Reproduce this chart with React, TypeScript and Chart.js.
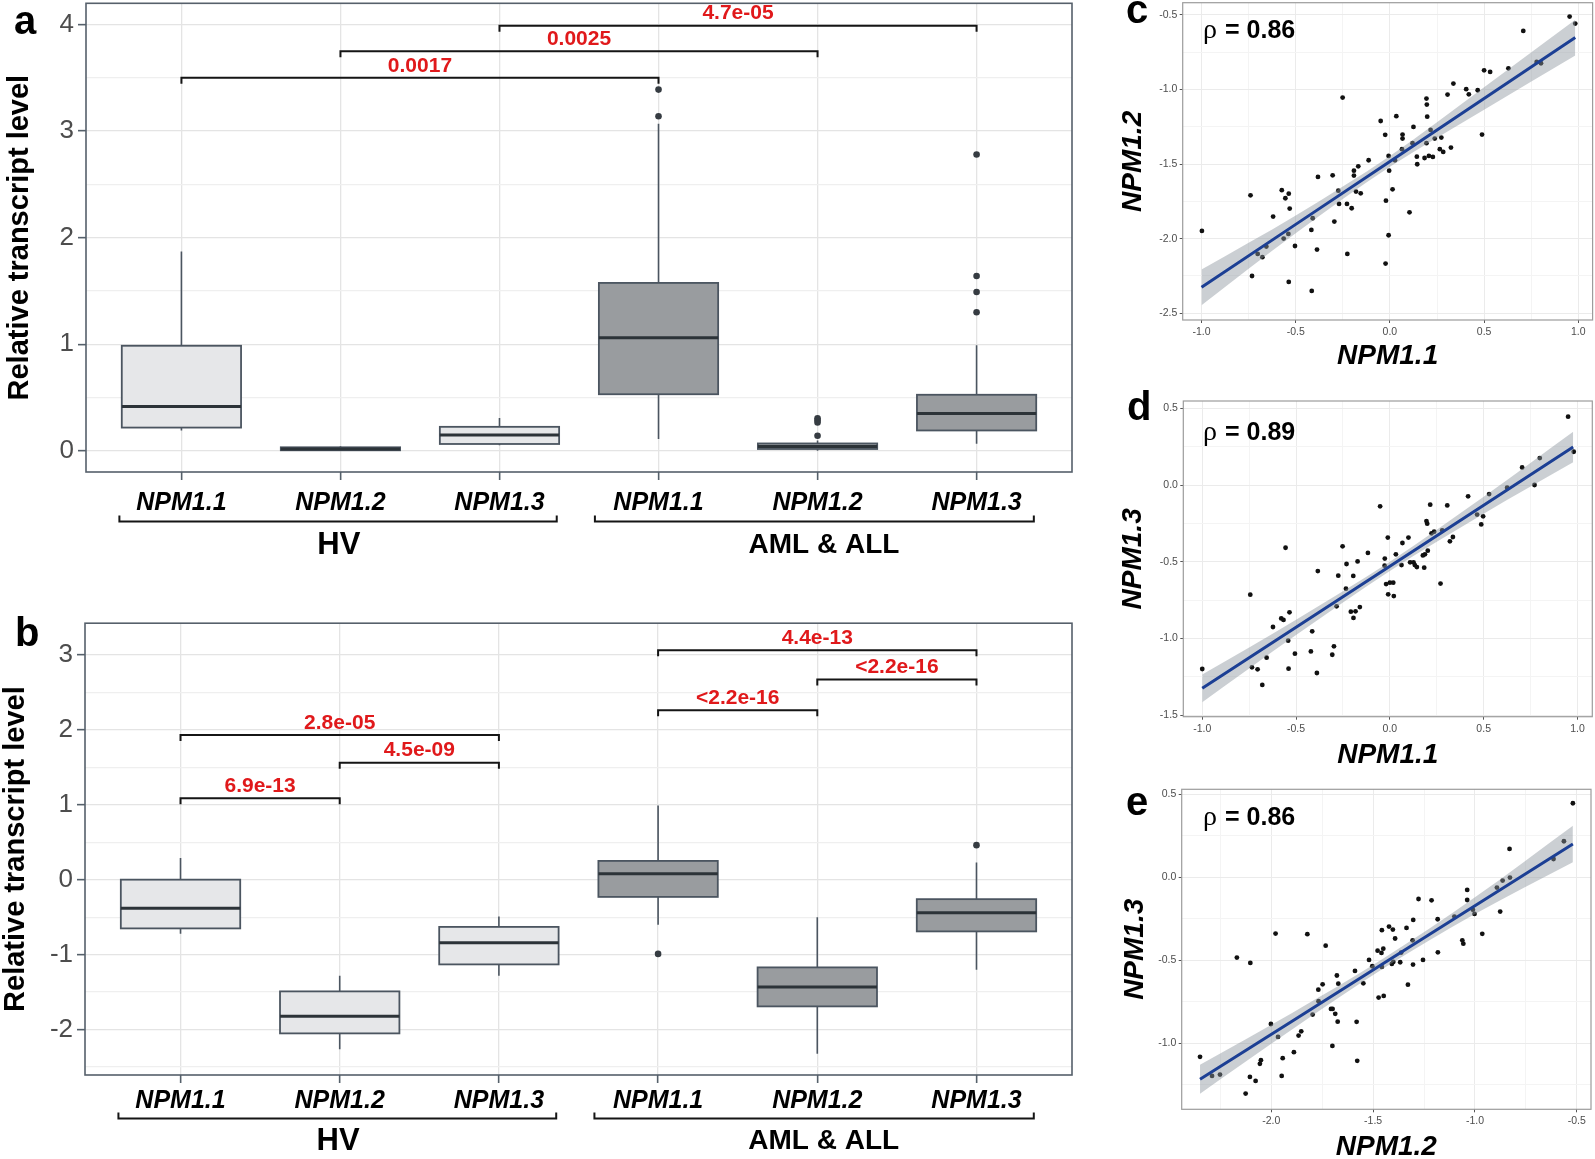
import React, { useEffect, useRef } from "react";
import { Chart, registerables } from "chart.js";

Chart.register(...registerables);

const FONT = '"Liberation Sans", Arial, Helvetica, sans-serif';
Chart.defaults.font.family = FONT;

// ---------- shared categories ----------
const categories = ["NPM1.1", "NPM1.2", "NPM1.3", "NPM1.1", "NPM1.2", "NPM1.3"];
const categoryIndex = [0, 1, 2, 3, 4, 5];
const groupOf = ["HV", "HV", "HV", "AML", "AML", "AML"];
const groupLabels = ["HV", "AML & ALL"];
const groupStart = [-0.39, 2.6];
const groupEnd = [2.36, 5.36];
const groupLabelAt = [0.99, 4.04];

// ---------- panel a ----------
const aWhiskerLow = [0.19, 0.0, 0.05, 0.11, 0.0, 0.065];
const aQ1 = [0.217, 0.004, 0.063, 0.53, 0.016, 0.19];
const aMedian = [0.414, 0.015, 0.147, 1.06, 0.04, 0.35];
const aQ3 = [0.985, 0.032, 0.224, 1.575, 0.068, 0.525];
const aWhiskerHigh = [1.87, 0.042, 0.307, 3.07, 0.095, 0.99];
const aOutlierCat = [3, 3, 4, 4, 4, 4, 5, 5, 5, 5];
const aOutlierVal = [3.39, 3.14, 0.305, 0.285, 0.265, 0.14, 2.78, 1.64, 1.49, 1.3];
const aBracketFrom = [0, 1, 2];
const aBracketTo = [3, 4, 5];
const aBracketY = [3.5, 3.75, 3.99];
const aBracketLabel = ["0.0017", "0.0025", "4.7e-05"];
const aYTicks = [0, 0.5, 1, 1.5, 2, 2.5, 3, 3.5, 4];

// ---------- panel b ----------
const bWhiskerLow = [-0.72, -2.26, -1.28, -0.6, -2.32, -1.2];
const bQ1 = [-0.65, -2.05, -1.13, -0.23, -1.69, -0.69];
const bMedian = [-0.38, -1.82, -0.84, 0.08, -1.43, -0.44];
const bQ3 = [0.0, -1.49, -0.63, 0.25, -1.17, -0.26];
const bWhiskerHigh = [0.29, -1.28, -0.49, 0.99, -0.5, 0.23];
const bOutlierCat = [3, 5];
const bOutlierVal = [-0.99, 0.46];
const bBracketFrom = [0, 1, 0, 3, 4, 3];
const bBracketTo = [1, 2, 2, 4, 5, 5];
const bBracketY = [1.085, 1.56, 1.93, 2.26, 2.67, 3.06];
const bBracketLabel = ["6.9e-13", "4.5e-09", "2.8e-05", "<2.2e-16", "<2.2e-16", "4.4e-13"];
const bYTicks = [-2.5, -2, -1.5, -1, -0.5, 0, 0.5, 1, 1.5, 2, 2.5, 3];

// ---------- panel c (NPM1.1 vs NPM1.2) ----------
const scatterC: [number, number][] = [
  [0.954, -0.511], [0.984, -0.558], [0.708, -0.607], [0.802, -0.824], [0.779, -0.815], [0.629, -0.858],
  [0.5, -0.871], [0.532, -0.882], [0.337, -0.96], [0.306, -1.034], [0.405, -0.998], [0.419, -1.032],
  [0.466, -1.005], [0.194, -1.061], [0.196, -1.101], [0.198, -1.182], [-0.251, -1.054], [0.034, -1.179],
  [-0.049, -1.211], [0.125, -1.251], [-0.025, -1.304], [0.067, -1.302], [0.067, -1.329], [0.216, -1.271],
  [0.238, -1.329], [0.273, -1.322], [0.489, -1.302], [0.12, -1.36], [0.194, -1.36], [0.265, -1.4],
  [0.283, -1.418], [0.324, -1.389], [0.064, -1.4], [-0.007, -1.445], [0.143, -1.45], [0.184, -1.459],
  [0.207, -1.445], [0.228, -1.452], [0.027, -1.474], [0.145, -1.501], [-0.113, -1.474], [-0.168, -1.515],
  [-0.304, -1.575], [-0.382, -1.586], [-0.191, -1.544], [-0.191, -1.577], [-0.004, -1.544], [-0.274, -1.678],
  [-0.18, -1.684], [-0.155, -1.696], [0.014, -1.669], [-0.574, -1.675], [-0.537, -1.698], [-0.74, -1.709],
  [-0.555, -1.729], [-0.228, -1.767], [-0.27, -1.767], [-0.532, -1.798], [-0.203, -1.796], [-0.021, -1.745],
  [0.104, -1.823], [-0.62, -1.852], [-0.41, -1.863], [-0.295, -1.885], [-0.998, -1.948], [-0.417, -1.941],
  [-0.564, -1.999], [-0.539, -1.968], [-0.007, -1.977], [-0.504, -2.049], [-0.656, -2.053], [-0.387, -2.073],
  [-0.702, -2.102], [-0.677, -2.124], [-0.226, -2.102], [-0.023, -2.167], [-0.732, -2.25], [-0.537, -2.29],
  [-0.415, -2.35],
];
const fitXC = [-1, -0.5, 0, 0.5, 0.984];
const fitYC = [-2.326, -1.904, -1.482, -1.06, -0.652];
const ciHiC = [-2.206, -1.844, -1.446, -0.985, -0.532];
const ciLoC = [-2.446, -1.964, -1.518, -1.135, -0.772];
const cXTicks = [-1, -0.75, -0.5, -0.25, 0, 0.25, 0.5, 0.75, 1];
const cYTicks = [-2.5, -2.25, -2, -1.75, -1.5, -1.25, -1, -0.75, -0.5];

// ---------- panel d (NPM1.1 vs NPM1.3) ----------
const scatterD: [number, number][] = [
  [0.95, 0.446], [0.98, 0.217], [0.799, 0.176], [0.705, 0.115], [0.771, 0.0], [0.625, -0.017],
  [0.529, -0.059], [0.417, -0.074], [0.465, -0.193], [0.497, -0.204], [0.487, -0.257], [-0.052, -0.139],
  [0.215, -0.128], [0.306, -0.133], [0.195, -0.235], [0.199, -0.252], [0.236, -0.304], [0.222, -0.315],
  [0.279, -0.296], [0.32, -0.367], [0.336, -0.339], [-0.011, -0.343], [0.099, -0.343], [0.067, -0.378],
  [0.202, -0.428], [0.187, -0.452], [0.176, -0.459], [0.032, -0.452], [-0.027, -0.48], [-0.028, -0.526],
  [0.062, -0.522], [0.108, -0.504], [0.126, -0.504], [0.133, -0.522], [0.144, -0.535], [0.183, -0.539],
  [-0.556, -0.409], [-0.252, -0.4], [-0.117, -0.443], [-0.231, -0.515], [-0.172, -0.498], [-0.384, -0.561],
  [-0.275, -0.591], [-0.195, -0.593], [-0.02, -0.646], [0.0, -0.637], [0.018, -0.637], [0.27, -0.643],
  [-0.009, -0.713], [0.021, -0.724], [-0.234, -0.676], [-0.744, -0.715], [-0.284, -0.791], [-0.16, -0.796],
  [-0.208, -0.826], [-0.183, -0.824], [-0.194, -0.867], [-0.579, -0.87], [-0.567, -0.88], [-0.535, -0.83],
  [-0.623, -0.926], [-0.414, -0.954], [-0.542, -1.015], [-0.421, -1.085], [-0.298, -1.052], [-0.307, -1.107],
  [-0.506, -1.1], [-0.657, -1.126], [-0.735, -1.189], [-0.705, -1.202], [-0.54, -1.198], [-0.389, -1.226],
  [-0.68, -1.304], [-1.0, -1.2],
];
const fitXD = [-1, -0.5, 0, 0.5, 0.977];
const fitYD = [-1.326, -0.928, -0.53, -0.132, 0.248];
const ciHiD = [-1.236, -0.878, -0.5, -0.077, 0.348];
const ciLoD = [-1.416, -0.978, -0.56, -0.187, 0.148];
const dXTicks = [-1, -0.75, -0.5, -0.25, 0, 0.25, 0.5, 0.75, 1];
const dYTicks = [-1.5, -1.25, -1, -0.75, -0.5, -0.25, 0, 0.25, 0.5];

// ---------- panel e (NPM1.2 vs NPM1.3) ----------
const scatterE: [number, number][] = [
  [-0.519, 0.446], [-0.563, 0.217], [-0.614, 0.11], [-0.83, 0.171], [-0.828, -0.002], [-0.864, -0.02],
  [-0.892, -0.062], [-1.038, -0.076], [-1.038, -0.137], [-1.01, -0.195], [-1.002, -0.221], [-0.876, -0.207],
  [-0.964, -0.341], [-1.062, -0.38], [-1.057, -0.4], [-1.277, -0.131], [-1.213, -0.139], [-1.183, -0.253],
  [-1.182, -0.452], [-1.101, -0.237], [-1.303, -0.257], [-1.336, -0.305], [-1.306, -0.38], [-1.304, -0.526],
  [-1.255, -0.498], [-1.329, -0.647], [-1.422, -0.297], [-1.403, -0.315], [-1.457, -0.319], [-1.392, -0.369],
  [-1.45, -0.43], [-1.478, -0.442], [-1.459, -0.456], [-1.362, -0.454], [-1.401, -0.51], [-1.408, -0.522],
  [-1.367, -0.512], [-1.457, -0.54], [-1.52, -0.498], [-1.504, -0.536], [-1.589, -0.564], [-1.548, -0.639],
  [-1.473, -0.725], [-1.448, -0.715], [-1.678, -0.592], [-1.671, -0.641], [-1.748, -0.645], [-1.769, -0.677],
  [-1.768, -0.747], [-1.733, -0.412], [-1.823, -0.343], [-1.979, -0.339], [-2.169, -0.484], [-2.103, -0.516],
  [-1.797, -0.827], [-1.707, -0.793], [-1.699, -0.793], [-1.686, -0.823], [-1.674, -0.87], [-1.581, -0.871],
  [-1.578, -1.106], [-1.7, -1.016], [-1.853, -0.928], [-1.866, -0.954], [-2.002, -0.884], [-1.967, -0.962],
  [-1.889, -1.054], [-1.944, -1.09], [-1.949, -1.197], [-2.051, -1.102], [-2.056, -1.124], [-2.105, -1.203],
  [-2.077, -1.227], [-2.126, -1.303], [-2.35, -1.082], [-2.291, -1.197], [-2.252, -1.189],
];
const fitXE = [-2.35, -1.9, -1.45, -1.0, -0.519];
const fitYE = [-1.217, -0.869, -0.52, -0.171, 0.201];
const ciHiE = [-1.13, -0.819, -0.49, -0.121, 0.311];
const ciLoE = [-1.304, -0.919, -0.55, -0.221, 0.091];
const eXTicks = [-2.25, -2, -1.75, -1.5, -1.25, -1, -0.75, -0.5];
const eYTicks = [-1.25, -1, -0.75, -0.5, -0.25, 0, 0.25, 0.5];

// ---------- styles ----------
const HV_FILL = "#e6e7e9";
const AML_FILL = "#999c9f";
const BOX_LINE = "#4b5560";
const MEDIAN_LINE = "#2c3338";
const OUTLIER = "#363c42";
const P_RED = "#e0191b";
const GRID_MAJOR = "#e4e4e4";
const GRID_MINOR = "#efefef";
const BOX_W = 0.75;

type Frame = { cx: number; cy: number; cw: number; ch: number; L: number; T: number; R: number; B: number };

type BoxProps = {
  frame: Frame;
  letter: string;
  letterXY: [number, number];
  yMin: number;
  yMax: number;
  yTicks: number[];
  whiskerLow: number[];
  q1: number[];
  median: number[];
  q3: number[];
  whiskerHigh: number[];
  outCat: number[];
  outVal: number[];
  bracketFrom: number[];
  bracketTo: number[];
  bracketY: number[];
  bracketLabel: string[];
  xTickPad: number;
  yTitleX: number;
  groupBracketY: number;
  groupLabelY: number;
};

const noScalePadding = (s: any) => {
  s.paddingTop = 0;
  s.paddingBottom = 0;
  s.paddingLeft = 0;
  s.paddingRight = 0;
};

function boxPlugin(p: BoxProps) {
  const f = p.frame;
  return {
    id: "boxes",
    beforeDatasetsDraw(chart: any) {
      const { ctx } = chart;
      const x = chart.scales.x;
      const y = chart.scales.y;
      ctx.save();
      for (let i = 0; i < p.median.length; i++) {
        const xl = x.getPixelForValue(i - BOX_W / 2);
        const xr = x.getPixelForValue(i + BOX_W / 2);
        const xc = x.getPixelForValue(i);
        const yq1 = y.getPixelForValue(p.q1[i]);
        const yq3 = y.getPixelForValue(p.q3[i]);
        const ymed = y.getPixelForValue(p.median[i]);
        const ylo = y.getPixelForValue(p.whiskerLow[i]);
        const yhi = y.getPixelForValue(p.whiskerHigh[i]);
        ctx.strokeStyle = BOX_LINE;
        ctx.lineWidth = 1.6;
        ctx.beginPath();
        ctx.moveTo(xc, yq3);
        ctx.lineTo(xc, yhi);
        ctx.moveTo(xc, yq1);
        ctx.lineTo(xc, ylo);
        ctx.stroke();
        ctx.fillStyle = groupOf[i] === "HV" ? HV_FILL : AML_FILL;
        ctx.fillRect(xl, yq3, xr - xl, yq1 - yq3);
        ctx.lineWidth = 1.8;
        ctx.strokeRect(xl, yq3, xr - xl, yq1 - yq3);
        ctx.strokeStyle = MEDIAN_LINE;
        ctx.lineWidth = 3;
        ctx.beginPath();
        ctx.moveTo(xl, ymed);
        ctx.lineTo(xr, ymed);
        ctx.stroke();
      }
      ctx.restore();
    },
    afterDraw(chart: any) {
      const { ctx, chartArea: a } = chart;
      const x = chart.scales.x;
      const y = chart.scales.y;
      ctx.save();
      // brackets with p-values
      for (let k = 0; k < p.bracketFrom.length; k++) {
        const x1 = x.getPixelForValue(p.bracketFrom[k]);
        const x2 = x.getPixelForValue(p.bracketTo[k]);
        const yy = y.getPixelForValue(p.bracketY[k]);
        ctx.strokeStyle = "#151515";
        ctx.lineWidth = 2;
        ctx.beginPath();
        ctx.moveTo(x1, yy + 6);
        ctx.lineTo(x1, yy);
        ctx.lineTo(x2, yy);
        ctx.lineTo(x2, yy + 6);
        ctx.stroke();
        ctx.fillStyle = P_RED;
        ctx.font = `bold 21px ${FONT}`;
        ctx.textAlign = "center";
        ctx.textBaseline = "middle";
        ctx.fillText(p.bracketLabel[k], (x1 + x2) / 2, yy - 12);
      }
      // panel border
      ctx.strokeStyle = "#56606b";
      ctx.lineWidth = 1.6;
      ctx.strokeRect(a.left, a.top, a.right - a.left, a.bottom - a.top);
      // group brackets under the axis
      const gy = p.groupBracketY - f.cy;
      for (let g = 0; g < groupLabels.length; g++) {
        const x1 = x.getPixelForValue(groupStart[g]);
        const x2 = x.getPixelForValue(groupEnd[g]);
        ctx.strokeStyle = "#151515";
        ctx.lineWidth = 2;
        ctx.beginPath();
        ctx.moveTo(x1, gy - 6);
        ctx.lineTo(x1, gy);
        ctx.lineTo(x2, gy);
        ctx.lineTo(x2, gy - 6);
        ctx.stroke();
        ctx.fillStyle = "#000";
        ctx.font = g === 0 ? `bold 31px ${FONT}` : `bold 28px ${FONT}`;
        ctx.textAlign = "center";
        ctx.textBaseline = "middle";
        ctx.fillText(groupLabels[g], x.getPixelForValue(groupLabelAt[g]), p.groupLabelY - f.cy);
      }
      // panel letter
      ctx.fillStyle = "#000";
      ctx.font = `bold 40px ${FONT}`;
      ctx.textAlign = "left";
      ctx.textBaseline = "alphabetic";
      ctx.fillText(p.letter, p.letterXY[0] - f.cx, p.letterXY[1] - f.cy);
      ctx.restore();
    },
  };
}

function boxConfig(p: BoxProps) {
  const f = p.frame;
  const xh = 80;
  const isInt = (v: number) => Math.abs(v - Math.round(v)) < 1e-9;
  return {
    type: "scatter",
    data: {
      datasets: [
        {
          data: p.outCat.map((c, i) => ({ x: c, y: p.outVal[i] })),
          pointRadius: 3.3,
          pointHoverRadius: 3.3,
          pointBackgroundColor: OUTLIER,
          pointBorderWidth: 0,
        },
      ],
    },
    options: {
      animation: false,
      responsive: false,
      devicePixelRatio: 1,
      events: [],
      layout: { padding: { left: 0, top: f.T - f.cy, right: f.cx + f.cw - f.R, bottom: f.cy + f.ch - f.B - xh } },
      plugins: { legend: { display: false }, tooltip: { enabled: false } },
      scales: {
        x: {
          type: "linear",
          min: -0.6,
          max: 5.6,
          afterBuildTicks: (s: any) => {
            s.ticks = categoryIndex.map((v) => ({ value: v }));
          },
          afterFit: (s: any) => {
            s.height = xh;
            noScalePadding(s);
          },
          ticks: {
            autoSkip: false,
            maxRotation: 0,
            minRotation: 0,
            padding: p.xTickPad,
            color: "#000",
            font: { family: FONT, size: 25, weight: "bold", style: "italic" },
            callback: (v: number) => categories[v] ?? "",
          },
          grid: { color: GRID_MAJOR, lineWidth: 1.3, drawTicks: true, tickLength: 8, tickColor: "#55606a", tickWidth: 1.6 },
          border: { display: false },
        },
        y: {
          type: "linear",
          min: p.yMin,
          max: p.yMax,
          afterBuildTicks: (s: any) => {
            s.ticks = p.yTicks.map((v) => ({ value: v }));
          },
          afterFit: (s: any) => {
            s.width = f.L - f.cx;
            noScalePadding(s);
          },
          ticks: {
            autoSkip: false,
            padding: 4,
            color: "#4d4d4d",
            font: { family: FONT, size: 26 },
            callback: (v: number) => (isInt(v) ? String(v) : ""),
          },
          grid: {
            color: (c: any) => (c.tick && isInt(c.tick.value) ? GRID_MAJOR : GRID_MINOR),
            lineWidth: 1.3,
            tickLength: 8,
            tickWidth: 1.6,
            tickColor: (c: any) => (c.tick && isInt(c.tick.value) ? "#55606a" : "rgba(0,0,0,0)"),
          },
          border: { display: false },
          title: {
            display: true,
            text: "Relative transcript level",
            color: "#000",
            font: { family: FONT, size: 29, weight: "bold", lineHeight: 1.2 },
            padding: { top: p.yTitleX - f.cx - 17.4, bottom: 0 },
          },
        },
      },
    },
    plugins: [boxPlugin(p)],
  };
}

type ScatterProps = {
  frame: Frame;
  letter: string;
  letterXY: [number, number];
  rho: string;
  rhoXY: [number, number];
  points: [number, number][];
  fitX: number[];
  fitY: number[];
  ciHi: number[];
  ciLo: number[];
  xMin: number;
  xMax: number;
  yMin: number;
  yMax: number;
  xTicks: number[];
  yTicks: number[];
  xTitle: string;
  yTitle: string;
  xTitleY: number;
  yTitleX: number;
};

function scatterPlugin(p: ScatterProps) {
  const f = p.frame;
  return {
    id: "scatterDeco",
    afterDraw(chart: any) {
      const { ctx, chartArea: a } = chart;
      ctx.save();
      ctx.strokeStyle = "#9c9c9c";
      ctx.lineWidth = 1.2;
      ctx.strokeRect(a.left, a.top, a.right - a.left, a.bottom - a.top);
      ctx.fillStyle = "#000";
      ctx.textAlign = "left";
      ctx.textBaseline = "alphabetic";
      ctx.font = `bold 40px ${FONT}`;
      ctx.fillText(p.letter, p.letterXY[0] - f.cx, p.letterXY[1] - f.cy);
      const rx = p.rhoXY[0] - f.cx;
      const ry = p.rhoXY[1] - f.cy;
      ctx.font = `28px "Liberation Serif", "DejaVu Serif", serif`;
      ctx.fillText("\u03C1", rx, ry);
      ctx.font = `bold 25px ${FONT}`;
      ctx.fillText("= " + p.rho, rx + 22, ry);
      ctx.restore();
    },
  };
}

function scatterConfig(p: ScatterProps) {
  const f = p.frame;
  const lh = 28 * 1.2;
  const xh = p.xTitleY - f.B + lh / 2;
  const isHalf = (v: number) => Math.abs(v * 2 - Math.round(v * 2)) < 1e-9;
  const tickFont = { family: FONT, size: 10.5 };
  const axisCommon = (ticks: number[]) => ({
    type: "linear",
    afterBuildTicks: (s: any) => {
      s.ticks = ticks.map((v) => ({ value: v }));
    },
    ticks: {
      autoSkip: false,
      maxRotation: 0,
      minRotation: 0,
      color: "#4d4d4d",
      font: tickFont,
      callback: (v: number) => (isHalf(v) ? v.toFixed(1) : ""),
    },
    grid: {
      color: (c: any) => (c.tick && isHalf(c.tick.value) ? "#ebebeb" : "#f4f4f4"),
      lineWidth: 1,
      tickLength: 3,
      tickWidth: 1,
      tickColor: (c: any) => (c.tick && isHalf(c.tick.value) ? "#555" : "rgba(0,0,0,0)"),
    },
    border: { display: false },
  });
  const titleFont = { family: FONT, size: 28, weight: "bold", style: "italic", lineHeight: 1.2 };
  return {
    type: "scatter",
    data: {
      datasets: [
        {
          type: "line",
          data: p.fitX.map((x, i) => ({ x, y: p.fitY[i] })),
          borderColor: "#1c3f94",
          borderWidth: 3,
          pointRadius: 0,
          fill: false,
          tension: 0,
        },
        {
          type: "line",
          data: p.fitX.map((x, i) => ({ x, y: p.ciHi[i] })),
          borderWidth: 0,
          borderColor: "rgba(0,0,0,0)",
          pointRadius: 0,
          fill: false,
          cubicInterpolationMode: "monotone",
        },
        {
          type: "line",
          data: p.fitX.map((x, i) => ({ x, y: p.ciLo[i] })),
          borderWidth: 0,
          borderColor: "rgba(0,0,0,0)",
          pointRadius: 0,
          fill: "-1",
          backgroundColor: "rgba(140,148,158,0.45)",
          cubicInterpolationMode: "monotone",
        },
        {
          type: "scatter",
          data: p.points.map(([x, y]) => ({ x, y })),
          pointRadius: 2.4,
          pointHoverRadius: 2.4,
          pointBackgroundColor: "#111",
          pointBorderWidth: 0,
        },
      ],
    },
    options: {
      animation: false,
      responsive: false,
      devicePixelRatio: 1,
      events: [],
      layout: { padding: { left: 0, top: f.T - f.cy, right: f.cx + f.cw - f.R, bottom: f.cy + f.ch - f.B - xh } },
      plugins: { legend: { display: false }, tooltip: { enabled: false } },
      scales: {
        x: {
          ...axisCommon(p.xTicks),
          min: p.xMin,
          max: p.xMax,
          ticks: { ...axisCommon(p.xTicks).ticks, padding: 2.7 },
          afterFit: (s: any) => {
            s.height = xh;
            noScalePadding(s);
          },
          title: { display: true, text: p.xTitle, color: "#000", font: titleFont, padding: { top: 0, bottom: 0 } },
        },
        y: {
          ...axisCommon(p.yTicks),
          min: p.yMin,
          max: p.yMax,
          ticks: { ...axisCommon(p.yTicks).ticks, padding: 2.4 },
          afterFit: (s: any) => {
            s.width = f.L - f.cx;
            noScalePadding(s);
          },
          title: {
            display: true,
            text: p.yTitle,
            color: "#000",
            font: titleFont,
            padding: { top: p.yTitleX - f.cx - lh / 2, bottom: 0 },
          },
        },
      },
    },
    plugins: [scatterPlugin(p)],
  };
}

function ChartCanvas({ frame, config }: { frame: Frame; config: () => any }) {
  const ref = useRef<HTMLCanvasElement | null>(null);
  useEffect(() => {
    if (!ref.current) return;
    const chart = new Chart(ref.current, config());
    return () => chart.destroy();
  }, []);
  return (
    <canvas
      ref={ref}
      width={frame.cw}
      height={frame.ch}
      style={{ position: "absolute", left: frame.cx, top: frame.cy, width: frame.cw, height: frame.ch }}
    />
  );
}

const panelA: BoxProps = {
  frame: { cx: 0, cy: 0, cw: 1100, ch: 580, L: 86, T: 1.5, R: 1072, B: 472 },
  letter: "a",
  letterXY: [14, 34],
  yMin: -0.2,
  yMax: 4.2,
  yTicks: aYTicks,
  whiskerLow: aWhiskerLow,
  q1: aQ1,
  median: aMedian,
  q3: aQ3,
  whiskerHigh: aWhiskerHigh,
  outCat: aOutlierCat,
  outVal: aOutlierVal,
  bracketFrom: aBracketFrom,
  bracketTo: aBracketTo,
  bracketY: aBracketY,
  bracketLabel: aBracketLabel,
  xTickPad: 8.5,
  yTitleX: 19.5,
  groupBracketY: 521.5,
  groupLabelY: 545,
};

const panelB: BoxProps = {
  frame: { cx: -4, cy: 590, cw: 1104, ch: 569, L: 85, T: 623.2, R: 1072, B: 1075 },
  letter: "b",
  letterXY: [15, 646],
  yMin: -2.605,
  yMax: 3.42,
  yTicks: bYTicks,
  whiskerLow: bWhiskerLow,
  q1: bQ1,
  median: bMedian,
  q3: bQ3,
  whiskerHigh: bWhiskerHigh,
  outCat: bOutlierCat,
  outVal: bOutlierVal,
  bracketFrom: bBracketFrom,
  bracketTo: bBracketTo,
  bracketY: bBracketY,
  bracketLabel: bBracketLabel,
  xTickPad: 3,
  yTitleX: 15.5,
  groupBracketY: 1118.5,
  groupLabelY: 1141,
};

const panelC: ScatterProps = {
  frame: { cx: 1100, cy: 0, cw: 495, ch: 385, L: 1182.7, T: 2.7, R: 1593.3, B: 320 },
  letter: "c",
  letterXY: [1126, 23],
  rho: "0.86",
  rhoXY: [1203, 38],
  points: scatterC,
  fitX: fitXC,
  fitY: fitYC,
  ciHi: ciHiC,
  ciLo: ciLoC,
  xMin: -1.1,
  xMax: 1.076,
  yMin: -2.545,
  yMax: -0.418,
  xTicks: cXTicks,
  yTicks: cYTicks,
  xTitle: "NPM1.1",
  yTitle: "NPM1.2",
  xTitleY: 356,
  yTitleX: 1133,
};

const panelD: ScatterProps = {
  frame: { cx: 1100, cy: 385, cw: 495, ch: 390, L: 1183.3, T: 401, R: 1592.3, B: 716.7 },
  letter: "d",
  letterXY: [1127, 420],
  rho: "0.89",
  rhoXY: [1203, 440],
  points: scatterD,
  fitX: fitXD,
  fitY: fitYD,
  ciHi: ciHiD,
  ciLo: ciLoD,
  xMin: -1.101,
  xMax: 1.079,
  yMin: -1.511,
  yMax: 0.548,
  xTicks: dXTicks,
  yTicks: dYTicks,
  xTitle: "NPM1.1",
  yTitle: "NPM1.3",
  xTitleY: 755,
  yTitleX: 1133,
};

const panelE: ScatterProps = {
  frame: { cx: 1100, cy: 770, cw: 495, ch: 395, L: 1181.7, T: 789.3, R: 1591, B: 1109.3 },
  letter: "e",
  letterXY: [1126, 815],
  rho: "0.86",
  rhoXY: [1203, 825],
  points: scatterE,
  fitX: fitXE,
  fitY: fitYE,
  ciHi: ciHiE,
  ciLo: ciLoE,
  xMin: -2.44,
  xMax: -0.43,
  yMin: -1.398,
  yMax: 0.53,
  xTicks: eXTicks,
  yTicks: eYTicks,
  xTitle: "NPM1.2",
  yTitle: "NPM1.3",
  xTitleY: 1147,
  yTitleX: 1135,
};

export default function App() {
  return (
    <div
      style={{
        position: "absolute",
        left: 0,
        top: 0,
        width: 1595,
        height: 1159,
        overflow: "hidden",
        background: "#fff",
      }}
    >
      <ChartCanvas frame={panelA.frame} config={() => boxConfig(panelA)} />
      <ChartCanvas frame={panelB.frame} config={() => boxConfig(panelB)} />
      <ChartCanvas frame={panelC.frame} config={() => scatterConfig(panelC)} />
      <ChartCanvas frame={panelD.frame} config={() => scatterConfig(panelD)} />
      <ChartCanvas frame={panelE.frame} config={() => scatterConfig(panelE)} />
    </div>
  );
}
